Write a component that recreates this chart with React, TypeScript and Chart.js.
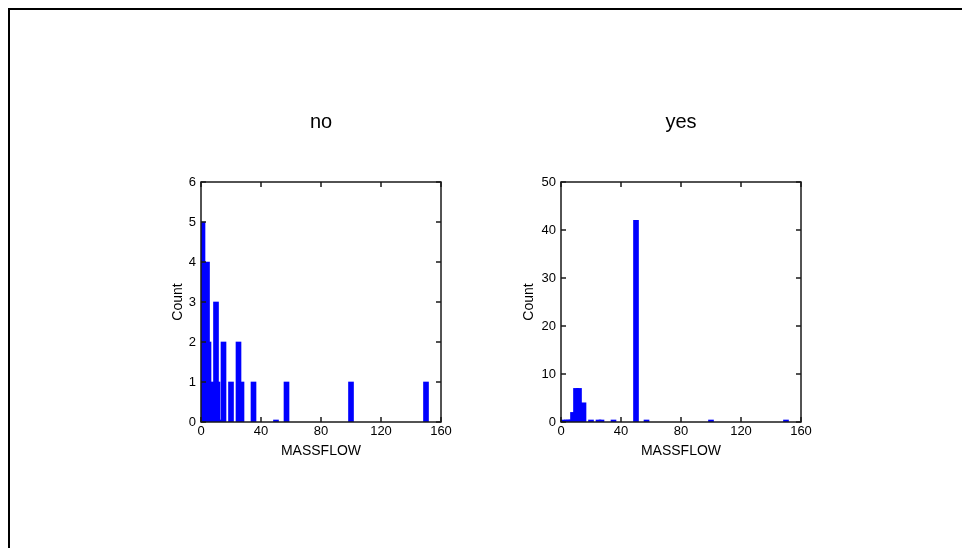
import React, { useEffect, useRef } from "react";
import { Chart, registerables } from "chart.js";

Chart.register(...registerables);

// MASSFLOW values (shared bins) and counts per group
const massflowValues = [1, 4, 5, 7, 8, 10, 11, 12, 15, 20, 25, 27, 35, 50, 57, 100, 150];
const countsNo = [5, 4, 2, 1, 0, 3, 1, 0, 2, 1, 2, 1, 1, 0, 1, 1, 1];
const countsYes = [0, 0, 0, 0, 2, 7, 0, 7, 4, 0, 0, 0, 0, 42, 0, 0, 0];
const panelTitles = ["no", "yes"];
const xAxisTitle = "MASSFLOW";
const yAxisTitle = "Count";
const xMin = 0;
const xMax = 160;
const xStep = 40;
const yMaxNo = 6;
const yStepNo = 1;
const yMaxYes = 50;
const yStepYes = 10;

const FONT = "'Liberation Sans', Arial, Helvetica, sans-serif";

const frameTicksPlugin = {
  id: "frameTicks",
  afterDatasetsDraw(chart: any, _args: any, opts: any) {
    const { ctx, chartArea: a, scales } = chart;
    ctx.save();
    ctx.strokeStyle = "#1a1a1a";
    ctx.lineWidth = 1.5;
    ctx.strokeRect(a.left, a.top, a.right - a.left, a.bottom - a.top);
    const len = 5;
    ctx.beginPath();
    scales.x.ticks.forEach((t: any) => {
      const px = scales.x.getPixelForValue(t.value);
      ctx.moveTo(px, a.bottom);
      ctx.lineTo(px, a.bottom - len);
      ctx.moveTo(px, a.top);
      ctx.lineTo(px, a.top + len);
    });
    scales.y.ticks.forEach((t: any) => {
      const py = scales.y.getPixelForValue(t.value);
      ctx.moveTo(a.left, py);
      ctx.lineTo(a.left + len, py);
      ctx.moveTo(a.right, py);
      ctx.lineTo(a.right - len, py);
    });
    ctx.stroke();
    if (opts && opts.text) {
      ctx.fillStyle = "#000";
      ctx.font = `20px ${FONT}`;
      ctx.textAlign = "center";
      ctx.textBaseline = "alphabetic";
      ctx.fillText(opts.text, (a.left + a.right) / 2, a.top - opts.offset);
    }
    ctx.restore();
  },
};

function Panel(props: {
  title: string;
  counts: number[];
  yMax: number;
  yStep: number;
  left: number;
  yTitlePad: number;
}) {
  const ref = useRef<HTMLCanvasElement | null>(null);
  useEffect(() => {
    if (!ref.current) return;
    const tickFont = { family: FONT, size: 13 };
    const chart = new Chart(ref.current, {
      type: "bar",
      data: {
        datasets: [
          {
            data: massflowValues.map((v, i) => ({ x: v, y: props.counts[i] })),
            backgroundColor: "#0000ff",
            borderWidth: 0,
            barThickness: 5,
            minBarLength: 2,
            grouped: false,
          } as any,
        ],
      },
      options: {
        animation: false,
        responsive: false,
        maintainAspectRatio: false,
        layout: { padding: { left: 0, right: 19, top: 82, bottom: 0 } },
        plugins: {
          legend: { display: false },
          tooltip: { enabled: false },
          title: { display: false },
          frameTicks: { text: props.title, offset: 54 },
        } as any,
        scales: {
          x: {
            type: "linear",
            min: xMin,
            max: xMax,
            offset: false,
            ticks: { stepSize: xStep, padding: 2, color: "#000", font: tickFont },
            grid: { display: false, drawTicks: false },
            border: { display: false },
            title: {
              display: true,
              text: xAxisTitle,
              color: "#000",
              font: { family: FONT, size: 14 },
              padding: { top: 0, bottom: 0 },
            },
            afterFit(s: any) {
              s.height = 38;
            },
          },
          y: {
            type: "linear",
            min: 0,
            max: props.yMax,
            ticks: { stepSize: props.yStep, padding: 5, color: "#000", font: tickFont },
            grid: { display: false, drawTicks: false },
            border: { display: false },
            title: {
              display: true,
              text: yAxisTitle,
              color: "#000",
              font: { family: FONT, size: 14 },
              padding: { top: props.yTitlePad, bottom: 0 },
            },
            afterFit(s: any) {
              s.width = 61;
            },
          },
        } as any,
      },
      plugins: [frameTicksPlugin],
    });
    return () => chart.destroy();
  }, []);
  return (
    <canvas
      ref={ref}
      width={320}
      height={360}
      style={{ position: "absolute", left: props.left, top: 100, width: 320, height: 360 }}
    />
  );
}

export default function App() {
  return (
    <div>
      <div
        style={{
          position: "absolute",
          left: 8,
          top: 8,
          width: 954,
          height: 540,
          boxSizing: "border-box",
          borderTop: "2px solid #000",
          borderLeft: "2px solid #000",
        }}
      />
      <Panel title={panelTitles[0]} counts={countsNo} yMax={yMaxNo} yStep={yStepNo} left={140} yTitlePad={30} />
      <Panel title={panelTitles[1]} counts={countsYes} yMax={yMaxYes} yStep={yStepYes} left={500} yTitlePad={21} />
    </div>
  );
}
